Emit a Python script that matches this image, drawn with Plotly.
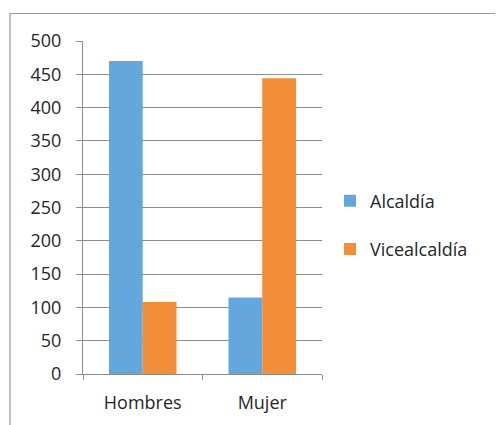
import plotly.graph_objects as go

categories = ["Hombres", "Mujer"]
alcaldia = [470, 115]
vicealcaldia = [108, 444]
series_names = ["Alcaldía", "Vicealcaldía"]
y_ticks = [0, 50, 100, 150, 200, 250, 300, 350, 400, 450, 500]

OFF = 8  # default page body margin
W, H = 503 - OFF, 425 - OFF
L, R, T, B = 83 - OFF, 322 - OFF, 41 - OFF, 374 - OFF

def px_x(p):
    return (p - OFF - L) / (R - L)

def px_y(p):
    return (B - (p - OFF)) / (B - T)

fig = go.Figure()
fig.add_trace(go.Bar(x=categories, y=alcaldia, name=series_names[0],
                     marker=dict(color="#64a7dd", line=dict(width=0)),
                     legendgroup="a"))
fig.add_trace(go.Bar(x=categories, y=vicealcaldia, name=series_names[1],
                     marker=dict(color="#f28d3a", line=dict(width=0)),
                     legendgroup="b"))

font = dict(family="Open Sans, sans-serif", size=18, color="#262626")

fig.update_layout(
    width=W, height=H,
    margin=dict(l=L, r=W - R, t=T, b=H - B, pad=0),
    paper_bgcolor="white", plot_bgcolor="white",
    barmode="group", bargap=0.435, bargroupgap=0,
    font=font,
    showlegend=True,
    legend=dict(x=px_x(330), xanchor="left", y=px_y(225), yanchor="middle",
                font=font, tracegroupgap=22, traceorder="grouped",
                bgcolor="rgba(0,0,0,0)"),
    xaxis=dict(showgrid=False, showline=True, linecolor="#8c8c8c", linewidth=1,
               ticks="outside", ticklen=5, tickcolor="#8c8c8c",
               tickson="boundaries", tickfont=font, zeroline=False,
               ticklabelstandoff=12),
    yaxis=dict(range=[0, 500], tickvals=y_ticks, showgrid=True,
               gridcolor="#8c8c8c", gridwidth=1, showline=True,
               linecolor="#8c8c8c", linewidth=1, ticks="outside", ticklen=6,
               tickcolor="#8c8c8c", tickfont=font, zeroline=False,
               ticklabelstandoff=11),
    shapes=[dict(type="rect", xref="paper", yref="paper",
                 x0=px_x(10), x1=px_x(502), y0=px_y(440), y1=px_y(13.5),
                 line=dict(color="#999999", width=1.2), layer="below")],
)

fig.write_html("out.html")
